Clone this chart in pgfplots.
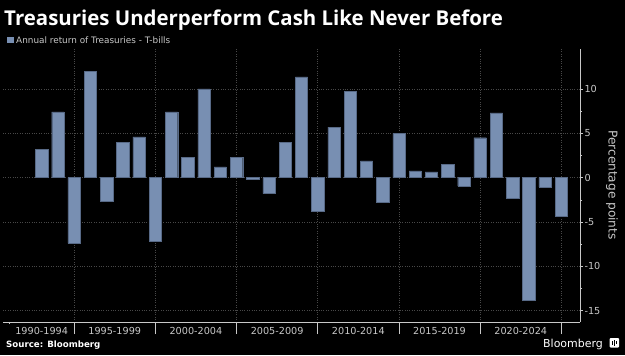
\documentclass[border=0pt]{standalone}
\usepackage{pgfplots}
\pgfplotsset{compat=1.18}
\usepackage{fontspec}
\setmainfont{DejaVu Sans}
\newfontfamily\titlefont{Open Sans}
\definecolor{barc}{RGB}{120,143,178}
\definecolor{bard}{RGB}{88,106,135}
\definecolor{gridc}{RGB}{72,72,72}
\definecolor{txt}{RGB}{200,200,200}
\begin{document}
\begin{tikzpicture}[x=1bp,y=1bp]
\fill[black] (0,0) rectangle (625,355);
\useasboundingbox (0,0) rectangle (625,355);
\begin{axis}[
  at={(3bp,33bp)}, anchor=south west, scale only axis,
  width=577bp, height=273bp,
  xmin=1989.62, xmax=2025.15, ymin=-16.27, ymax=14.5,
  axis x line*=bottom, axis y line*=right,
  axis line style={txt, line width=0.6bp},
  xtick={1992,1996.5,2001.5,2006.5,2011.5,2016.5,2021.5},
  xticklabels={1990-1994,1995-1999,2000-2004,2005-2009,2010-2014,2015-2019,2020-2024},
  major x tick style={draw=none},
  extra x ticks={1994,1999,2004,2009,2014,2019,2024},
  extra x tick labels={},
  extra x tick style={major x tick style={draw=txt, line width=0.5bp}, major tick length=12bp, xmajorgrids=true},
  minor xtick={1990},
  ytick={-15,-10,-5,0,5,10},
  minor y tick num=1,
  tick align=outside,
  major tick length=3bp, minor tick length=2bp,
  tick style={txt, line width=0.5bp},
  ymajorgrids=true,
  grid style={gridc, dotted, line width=0.6bp},
  yticklabel pos=right,
  /pgf/number format/assume math mode=true,
  ticklabel style={txt, font=\fontsize{9.7}{11}\selectfont},
  yticklabel style={anchor=west, xshift=-2bp},
  xticklabel style={yshift=1bp},
  clip=false,
]
\addplot[ybar, bar width=0.76, fill=barc, draw=bard, line width=0.4bp] table[x=year, y=val] {
year val
1992 3.2
1993 7.4
1994 -7.4
1995 12.0
1996 -2.7
1997 4.0
1998 4.6
1999 -7.2
2000 7.4
2001 2.3
2002 10.0
2003 1.2
2004 2.3
2005 -0.2
2006 -1.8
2007 4.0
2008 11.35
2009 -3.8
2010 5.7
2011 9.7
2012 1.9
2013 -2.8
2014 5.0
2015 0.75
2016 0.65
2017 1.5
2018 -0.95
2019 4.5
2020 7.3
2021 -2.35
2022 -13.8
2023 -1.05
2024 -4.4
};
\end{axis}
% title and legend
\node[anchor=base west, inner sep=0, text=white, font=\titlefont\bfseries\fontsize{20.5}{23}\selectfont] at (4,330) {Treasuries Underperform Cash Like Never Before};
\fill[barc] (7,312) rectangle (13.5,318.5);
\node[anchor=base west, inner sep=0, text=txt, font=\fontsize{8.9}{10}\selectfont] at (16,312) {Annual return of Treasuries - T-bills};
% right label
\node[rotate=-90, inner sep=0, text=txt, font=\fontsize{12.2}{14}\selectfont] at (612,170) {Percentage points};
% footer
\node[anchor=base west, inner sep=0, text=white, font=\bfseries\fontsize{8.7}{10}\selectfont] at (6,8) {Source: Bloomberg};
\node[anchor=base west, inner sep=0, text=white, font=\fontsize{11}{12}\selectfont] at (543,8) {Bloomberg};
\fill[white, rounded corners=1bp] (609.5,7.5) rectangle (619,17);
\fill[black] (611.5,10) rectangle (612.7,14.5);
\fill[black] (613.8,9) rectangle (615,15.5);
\fill[black] (616.1,11) rectangle (617.3,14);
\end{tikzpicture}
\end{document}
